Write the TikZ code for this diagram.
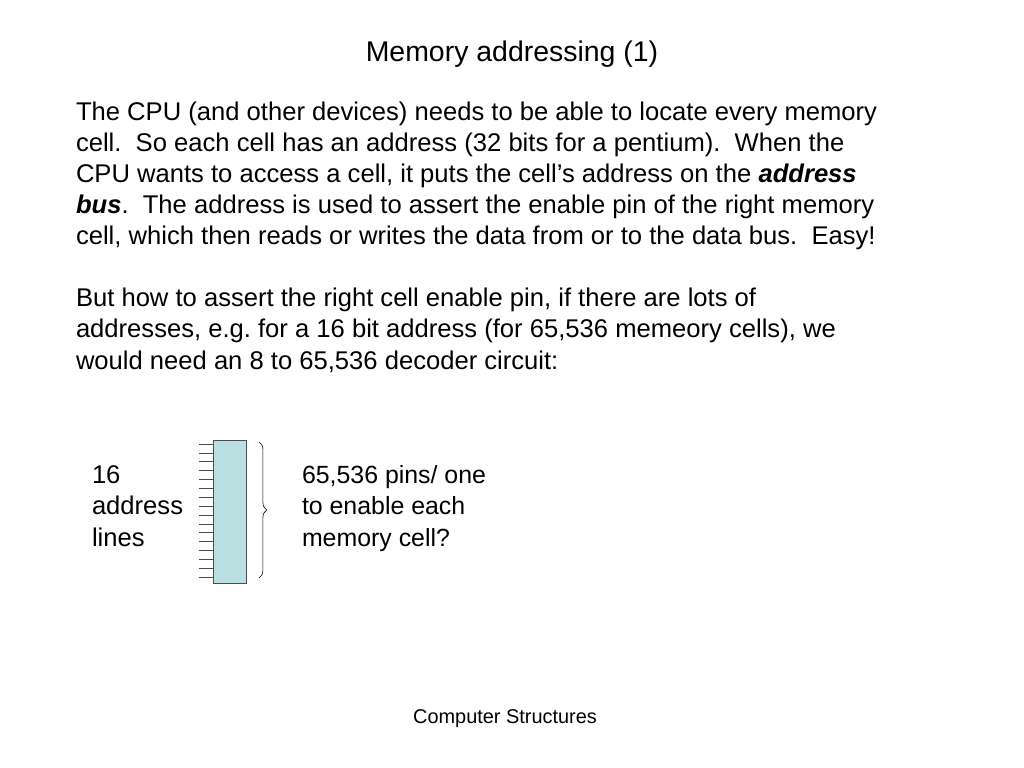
\documentclass[tikz,border=0pt]{standalone}
\usepackage{fontspec}
\setmainfont{Liberation Sans}
\usepackage[svgnames]{xcolor}
\usepackage{tikz}
\usetikzlibrary{
  calc,
  decorations.pathreplacing}

\definecolor{chipblue}{RGB}{185,223,224}

\begin{document}
\begin{tikzpicture}[
  x=0.703125pt,
  y=-0.703125pt,
  every node/.style={inner sep=0pt, outer sep=0pt},
  slidetext/.style={font=\fontsize{18}{21.8}\selectfont, align=left, anchor=base west}]
\useasboundingbox (0,0) rectangle (1024,768);

\node[font=\fontsize{20}{24}\selectfont, anchor=base] (title) at (512,62) {Memory addressing (1)};

% base anchor sits on the last line
\node[slidetext] (intro) at (76,369) {The CPU (and other devices) needs to be able to locate every memory\\
cell.\ \ So each cell has an address (32 bits for a pentium).\ \ When the\\
CPU wants to access a cell, it puts the cell’s address on the \textbf{\textit{address}}\\
\textbf{\textit{bus}}.\ \ The address is used to assert the enable pin of the right memory\\
cell, which then reads or writes the data from or to the data bus.\ \ Easy!\\[21.8pt]
But how to assert the right cell enable pin, if there are lots of\\
addresses, e.g.\ for a 16 bit address (for 65,536 memeory cells), we\\
would need an 8 to 65,536 decoder circuit:};

\node[
  draw=black!70,
  fill=chipblue,
  minimum width=23.2pt,
  minimum height=100.5pt] (chip) at (229.5,511.5) {};

\foreach \k in {0,...,15}
  \draw[black!70] (chip.north west) ++(0,4+\k*8.87) -- ++(-14,0);

\coordinate (bracetop) at ($(chip.north east)+(13,2)$);
\coordinate (bracebot) at ($(chip.south east)+(13,-5)$);
\draw[
  decorate,
  decoration={brace, amplitude=5.5pt}] (bracetop) -- (bracebot);

\node[slidetext] (lines) at (92,546) {16\\address\\lines};
\node[slidetext, font=\fontsize{17.5}{21.8}\selectfont] (pins) at (302,546) {65,536 pins/ one\\to enable each\\memory cell?};

\node[font=\fontsize{14}{16}\selectfont, anchor=base] (footer) at (505,723) {Computer Structures};
\end{tikzpicture}
\end{document}
